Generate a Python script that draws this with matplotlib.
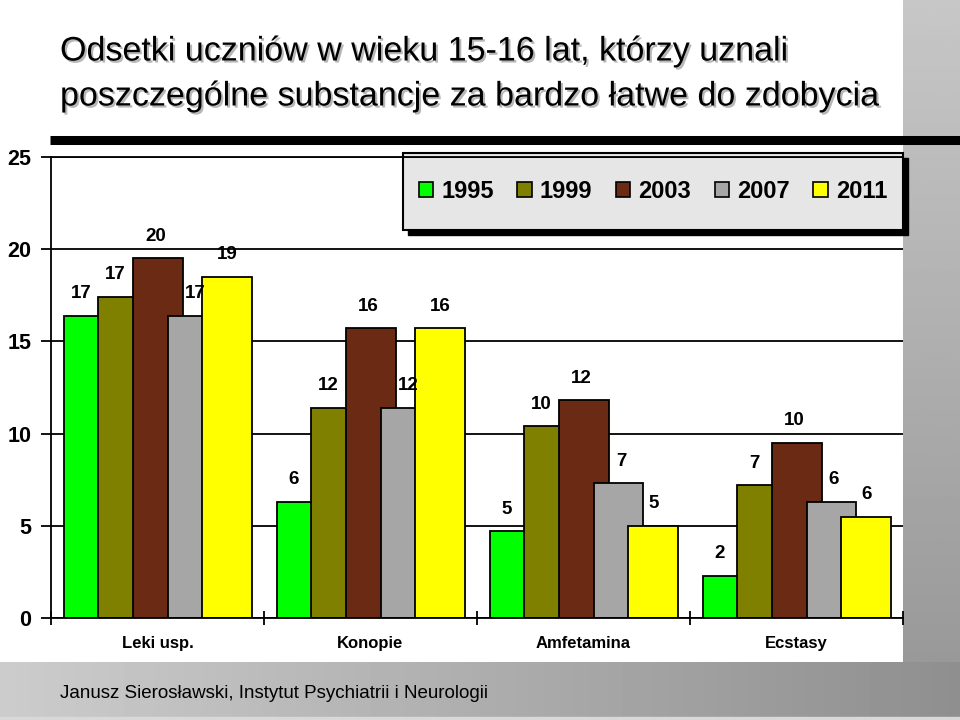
import numpy as np
import matplotlib
matplotlib.use("Agg")
import matplotlib.pyplot as plt
from matplotlib.patches import Rectangle, Patch
import matplotlib.patheffects as pe

categories = ["Leki usp.", "Konopie", "Amfetamina", "Ecstasy"]
years = ["1995", "1999", "2003", "2007", "2011"]
v1995 = [16.4, 6.3, 4.7, 2.3]
v1999 = [17.4, 11.4, 10.4, 7.2]
v2003 = [19.5, 15.7, 11.8, 9.5]
v2007 = [16.4, 11.4, 7.3, 6.3]
v2011 = [18.5, 15.7, 5.0, 5.5]
l1995 = [17, 6, 5, 2]
l1999 = [17, 12, 10, 7]
l2003 = [20, 16, 12, 10]
l2007 = [17, 12, 7, 6]
l2011 = [19, 16, 5, 6]
yticks = [0, 5, 10, 15, 20, 25]
title_lines = ["Odsetki uczniów w wieku 15-16 lat, którzy uznali",
               "poszczególne substancje za bardzo łatwe do zdobycia"]
footer = "Janusz Sierosławski, Instytut Psychiatrii i Neurologii"

values = [v1995, v1999, v2003, v2007, v2011]
labels = [l1995, l1999, l2003, l2007, l2011]
colors = ["#00ff00", "#808000", "#6b2a14", "#a6a6a6", "#ffff00"]
label_frac = [0.35, 0.35, 0.45, 0.55, 0.5]

W, H = 960, 720
fig = plt.figure(figsize=(9.6, 7.2), dpi=100)
fig.patch.set_facecolor("white")

sans = ["Liberation Sans", "DejaVu Sans"]

# background decorations
bg = fig.add_axes([0, 0, 1, 1], zorder=-10)
bg.set_xlim(0, W)
bg.set_ylim(H, 0)
bg.axis("off")
hgrad = np.linspace(0.80, 0.56, 256).reshape(1, -1)
bg.imshow(hgrad, extent=(0, W, 717, 662), cmap="gray", vmin=0, vmax=1, aspect="auto")
bg.add_patch(Rectangle((0, 717), W, 3, color="#d8d8d8"))
vgrad = np.linspace(0.78, 0.60, 256).reshape(-1, 1)
bg.imshow(vgrad, extent=(903, W, 662, 0), cmap="gray", vmin=0, vmax=1, aspect="auto")
bg.plot([50, W], [140, 140], color="black", lw=6.5, solid_capstyle="butt")
# legend box with shadow
bg.add_patch(Rectangle((408, 158), 500, 77, color="black"))
bg.add_patch(Rectangle((403, 153), 500, 77, facecolor="#e6e6e6", edgecolor="black", lw=1.5))

shadow = [pe.withSimplePatchShadow(offset=(1.5, -1.5), shadow_rgbFace="#888888", alpha=0.6)]
fig.text(60 / W, 1 - 52 / H, title_lines[0], fontsize=24.5, family=sans, va="center", ha="left",
         path_effects=shadow)
fig.text(60 / W, 1 - 97 / H, title_lines[1], fontsize=24.5, family=sans, va="center", ha="left",
         path_effects=shadow)
fig.text(60 / W, 1 - 693 / H, footer, fontsize=13.5, family=sans, va="center", ha="left")

ax = fig.add_axes([51 / W, 1 - 618 / H, (903 - 51) / W, (618 - 157) / H])
ax.set_facecolor("none")
ax.set_xlim(-0.5, len(categories) - 0.5)
ax.set_ylim(0, 25)

x = np.arange(len(categories))
step = 0.163
width = 0.233
group_left = -0.441
for i, (vals, labs, col) in enumerate(zip(values, labels, colors)):
    left = x + group_left + i * step
    ax.bar(left, vals, width, align="edge", color=col, edgecolor="black", lw=1.3, zorder=3 + i)
    for lx, v, lab in zip(left, vals, labs):
        ax.annotate(str(lab), (lx + label_frac[i] * width, v), xytext=(0, 16),
                    textcoords="offset points", ha="center", va="center",
                    fontsize=13.5, fontweight="bold", family=sans, zorder=20)

ax.set_yticks(yticks)
ax.set_yticklabels([str(t) for t in yticks], fontsize=15.5, fontweight="bold", family=sans)
ax.yaxis.grid(True, color="black", lw=1.3)
ax.set_axisbelow(True)
ax.tick_params(axis="y", direction="out", length=7, width=1.3, pad=7)

ax.set_xticks(x)
ax.set_xticklabels(categories, fontsize=12, fontweight="bold", family=sans)
ax.tick_params(axis="x", which="major", length=0, pad=13)
ax.set_xticks(np.arange(-0.5, len(categories)), minor=True)
ax.tick_params(axis="x", which="minor", direction="inout", length=10, width=1.3)

for s in ["right"]:
    ax.spines[s].set_visible(False)
for s in ["left", "bottom", "top"]:
    ax.spines[s].set_linewidth(1.3)
    ax.spines[s].set_color("black")
    ax.spines[s].set_zorder(30)

handles = [Patch(facecolor=c, edgecolor="black", lw=1.2) for c in colors]
leg = fig.legend(handles, years, loc="center", bbox_to_anchor=(653 / W, 1 - 191 / H),
                 ncol=5, frameon=False, handlelength=0.6, handleheight=0.6,
                 handletextpad=0.35, columnspacing=1.0,
                 prop={"size": 17, "weight": "bold", "family": sans})

fig.savefig("out.png", dpi=100)
